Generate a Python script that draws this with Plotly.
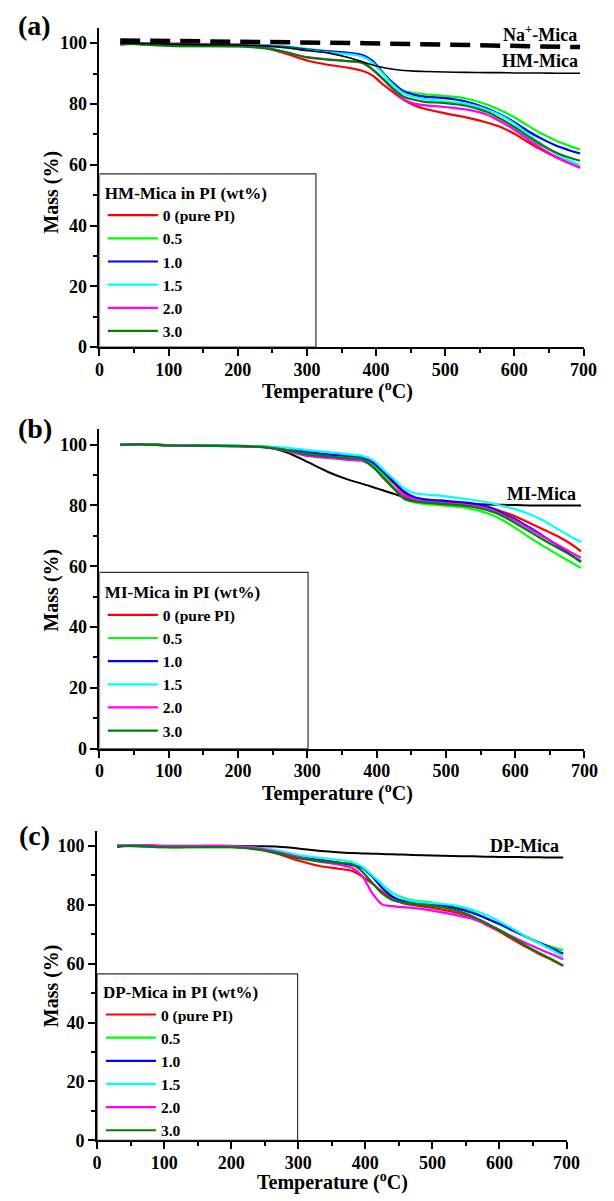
import plotly.graph_objects as go

FONT = "Liberation Serif, Times New Roman, serif"

# ---------------- data ----------------
T = [30, 60, 100, 150, 200, 240, 270, 300, 330, 360, 380, 395, 410, 425, 440,
     455, 470, 500, 530, 560, 580, 600, 620, 640, 660, 680, 695]

LABELS = ["0 (pure PI)", "0.5", "1.0", "1.5", "2.0", "3.0"]
COLORS = ["#ff0000", "#00ff00", "#0000ff", "#00ffff", "#ff00ff", "#008000"]

# panel (a) HM-Mica in PI
a_0 = [100, 99.8, 99.7, 99.6, 99.5, 98.4, 96.5, 94.3, 92.9, 91.9, 90.9, 89.3, 86.4, 83.8, 81.4,
       79.6, 78.4, 76.9, 75.6, 73.9, 72.4, 70.2, 67.4, 64.8, 62.5, 60.5, 59.0]
a_05 = [100, 99.6, 99.1, 99.0, 99.0, 99.0, 98.9, 98.1, 97.4, 96.6, 95.8, 93.5, 90.3, 86.7, 84.3,
        83.6, 83.2, 82.6, 81.8, 79.8, 77.9, 75.6, 72.8, 70.2, 68.0, 66.2, 65.0]
a_10 = [99.5, 99.9, 99.8, 99.7, 99.6, 99.3, 98.7, 97.9, 97.3, 96.8, 96.1, 94.2, 90.2, 86.8, 84.1,
        83.0, 82.4, 81.9, 80.8, 78.6, 76.5, 74.0, 71.0, 68.5, 66.3, 64.7, 63.7]
a_15 = [100, 99.9, 99.8, 99.7, 99.6, 99.2, 98.5, 97.6, 97.0, 96.4, 95.6, 93.6, 89.9, 86.2, 83.5,
        82.3, 81.6, 80.8, 80.1, 78.2, 76.3, 73.5, 70.0, 66.8, 63.8, 61.3, 59.8]
a_20 = [100, 99.9, 99.8, 99.7, 99.5, 98.6, 97.0, 95.4, 94.7, 94.1, 93.5, 91.3, 88.1, 84.7, 81.6,
        80.1, 79.6, 79.0, 78.2, 76.5, 74.2, 71.5, 68.3, 65.3, 62.7, 60.5, 59.0]
a_30 = [100, 99.6, 99.1, 99.0, 98.9, 98.3, 97.0, 95.3, 94.6, 94.1, 93.6, 91.4, 88.3, 85.0, 82.4,
        81.4, 80.7, 80.3, 79.4, 77.4, 75.1, 72.4, 69.3, 66.4, 64.0, 62.3, 61.3]
a_hm = [100, 99.9, 99.7, 99.5, 99.4, 99.1, 98.5, 97.6, 96.8, 95.3, 93.9, 92.8, 92.0, 91.4, 91.0,
        90.8, 90.7, 90.5, 90.4, 90.3, 90.3, 90.2, 90.2, 90.2, 90.1, 90.1, 90.1]
T_na = [30, 384, 695]
a_na = [100.9, 100.0, 98.7]

# panel (b) MI-Mica in PI
b_0 = [100, 100.2, 99.8, 99.6, 99.5, 99.2, 98.3, 97.3, 96.6, 96.0, 95.4, 93.8, 90.6, 87.2, 84.0,
       82.4, 81.7, 81.0, 80.4, 79.4, 78.1, 76.4, 74.3, 72.2, 70.0, 67.4, 64.9]
b_05 = [100, 100.1, 99.7, 99.6, 99.5, 99.1, 98.3, 97.2, 96.3, 95.7, 95.4, 93.1, 89.9, 85.8, 82.2,
        81.0, 80.5, 79.9, 79.2, 77.4, 75.4, 72.6, 69.6, 66.7, 64.0, 61.4, 59.4]
b_10 = [99.8, 100.2, 99.8, 99.7, 99.6, 99.3, 98.6, 97.6, 96.8, 96.3, 95.8, 94.1, 91.0, 87.7, 84.5,
        82.7, 82.0, 81.5, 80.9, 79.6, 77.6, 75.5, 72.8, 70.0, 67.0, 63.8, 61.6]
b_15 = [100, 100.2, 99.8, 99.7, 99.7, 99.4, 98.9, 98.2, 97.5, 96.8, 96.2, 94.8, 91.7, 88.6, 85.5,
        84.0, 83.6, 83.0, 82.1, 81.0, 79.9, 78.8, 77.2, 75.1, 72.4, 69.8, 67.9]
b_20 = [100, 100.1, 99.8, 99.6, 99.5, 99.1, 97.9, 96.3, 95.6, 95.0, 94.6, 92.6, 88.9, 85.8, 83.2,
        82.0, 81.3, 80.7, 80.1, 79.0, 77.1, 75.0, 72.4, 69.8, 67.2, 64.6, 62.8]
b_30 = [100, 100.1, 99.7, 99.6, 99.5, 99.1, 98.2, 96.8, 96.1, 95.5, 95.1, 92.6, 89.1, 85.4, 82.2,
        81.3, 80.9, 80.4, 79.8, 78.4, 76.7, 74.2, 71.5, 68.8, 66.2, 63.6, 61.4]
b_mi = [100, 100.2, 99.8, 99.6, 99.5, 99.1, 97.5, 94.3, 91.0, 88.4, 87.1, 86.0, 84.9, 83.8, 82.6,
        81.7, 81.3, 80.8, 80.5, 80.3, 80.2, 80.1, 80.0, 80.0, 80.0, 80.0, 80.0]

# panel (c) DP-Mica in PI
c_0 = [100, 100.2, 99.9, 99.8, 99.7, 98.9, 97.2, 95.0, 93.2, 92.2, 91.5, 89.6, 87.2, 84.4, 81.9,
       80.6, 79.9, 78.9, 77.6, 75.6, 73.2, 70.9, 68.2, 65.6, 63.2, 61.0, 59.3]
c_05 = [100, 99.8, 99.5, 99.5, 99.5, 99.0, 97.8, 96.2, 95.0, 94.2, 93.5, 92.6, 89.9, 86.8, 84.0,
        82.5, 81.5, 80.7, 79.6, 77.6, 75.4, 73.3, 71.1, 69.0, 67.1, 65.5, 64.5]
c_10 = [99.6, 100.1, 99.8, 99.7, 99.6, 99.2, 97.9, 96.2, 95.3, 94.3, 93.5, 92.5, 89.6, 85.7, 82.8,
        81.3, 80.9, 80.2, 79.1, 77.2, 75.4, 73.5, 71.3, 69.1, 67.0, 65.0, 63.4]
c_15 = [100, 100.1, 99.8, 99.7, 99.6, 99.3, 98.4, 96.8, 96.0, 95.2, 94.5, 92.9, 90.0, 86.9, 84.0,
        82.3, 81.2, 80.5, 79.9, 78.3, 76.5, 74.3, 71.8, 69.2, 66.8, 64.4, 62.3]
c_20 = [100, 100.1, 100.0, 100.0, 100.0, 99.1, 97.8, 96.2, 94.7, 93.6, 92.5, 89.8, 84.0, 80.1, 79.5,
        79.2, 78.9, 78.0, 76.7, 75.2, 73.4, 71.3, 69.1, 66.9, 64.9, 63.0, 61.5]
c_30 = [100, 99.9, 99.5, 99.5, 99.5, 98.7, 97.4, 95.8, 94.8, 94.2, 93.7, 91.3, 87.5, 83.8, 81.6,
        80.8, 80.3, 79.6, 78.4, 76.0, 73.8, 71.4, 68.7, 66.0, 63.5, 61.2, 59.3]
c_dp = [100, 100.1, 99.9, 99.8, 99.8, 99.8, 99.7, 99.1, 98.3, 97.8, 97.5, 97.4, 97.3, 97.2, 97.1,
        97.0, 96.9, 96.7, 96.5, 96.4, 96.3, 96.2, 96.2, 96.1, 96.1, 96.0, 96.0]

X_TICKS = [0, 100, 200, 300, 400, 500, 600, 700]
Y_TICKS = [0, 20, 40, 60, 80, 100]

# ---------------- figure ----------------
W, H = 614, 1201
fig = go.Figure()


def py(p):
    return 1 - p / H


def px(p):
    return p / W


panels = [
    dict(series=[a_0, a_05, a_10, a_15, a_20, a_30], ref=a_hm, ref_w=1.6, ref_top=True,
         title="HM-Mica in PI (wt%)",
         xdom=[px(97.5), px(597)], ydom=[py(350), py(28.2)],
         box=(313, 57), leg=(101, 178)),
    dict(series=[b_0, b_05, b_10, b_15, b_20, b_30], ref=b_mi, ref_w=2.0, ref_top=False,
         title="MI-Mica in PI (wt%)",
         xdom=[px(97.5), px(598)], ydom=[py(755), py(433)],
         box=(301, 58), leg=(101, 581)),
    dict(series=[c_0, c_05, c_10, c_15, c_20, c_30], ref=c_dp, ref_w=2.0, ref_top=False,
         title="DP-Mica in PI (wt%)",
         xdom=[px(95), px(579.5)], ydom=[py(1150), py(838)],
         box=(299, 56.5), leg=(99, 984)),
]

tickfont = dict(family=FONT, size=18, color="black", weight="bold")
layout = {}
shapes = []
for i, p in enumerate(panels, start=1):
    sfx = "" if i == 1 else str(i)
    xa, ya = "x" + sfx, "y" + sfx
    legname = "legend" + sfx

    def add_ref():
        fig.add_trace(go.Scatter(x=T, y=p["ref"], mode="lines",
                                 line=dict(color="black", width=p["ref_w"], shape="spline", smoothing=0.8),
                                 showlegend=False, xaxis=xa, yaxis=ya, hoverinfo="skip"))

    if not p["ref_top"]:
        add_ref()
    for lab, col, vals in zip(LABELS, COLORS, p["series"]):
        fig.add_trace(go.Scatter(x=T, y=vals, mode="lines", name=lab,
                                 line=dict(color=col, width=2.2, shape="spline", smoothing=0.8),
                                 xaxis=xa, yaxis=ya, legend=legname))
    if p["ref_top"]:
        add_ref()
    if i == 1:
        fig.add_trace(go.Scatter(x=T_na, y=a_na, mode="lines",
                                 line=dict(color="black", width=4.5, dash="20px,10px"),
                                 showlegend=False, xaxis=xa, yaxis=ya, hoverinfo="skip"))

    layout["xaxis" + sfx] = dict(
        domain=p["xdom"], anchor=ya, range=[0, 700], showline=True, linecolor="black",
        linewidth=2, ticks="outside", ticklen=7, tickwidth=2, tickcolor="black",
        tickvals=X_TICKS, ticktext=[str(v) for v in X_TICKS], ticklabelstandoff=-2,
        minor=dict(dtick=50, tick0=0, ticks="outside", ticklen=4, tickwidth=1.5, tickcolor="black"),
        showgrid=False, zeroline=False, tickfont=tickfont, fixedrange=True)
    layout["yaxis" + sfx] = dict(
        domain=p["ydom"], anchor=xa, range=[0, 105], showline=True, linecolor="black",
        linewidth=2, ticks="outside", ticklen=7, tickwidth=2, tickcolor="black",
        tickvals=Y_TICKS, ticktext=[str(v) for v in Y_TICKS],
        minor=dict(dtick=10, tick0=0, ticks="outside", ticklen=4, tickwidth=1.5, tickcolor="black"),
        showgrid=False, zeroline=False, tickfont=tickfont, fixedrange=True)
    layout[legname] = dict(
        x=px(p["leg"][0]), y=py(p["leg"][1]), xanchor="left", yanchor="top",
        bgcolor="rgba(0,0,0,0)", borderwidth=0, tracegroupgap=0, itemwidth=50,
        font=dict(family=FONT, size=15.5, color="black", weight="bold"),
        title=dict(text=p["title"], font=dict(family=FONT, size=17, color="black", weight="bold")))
    shapes.append(dict(type="rect", xref=xa, yref=ya, x0=0, x1=p["box"][0], y0=0, y1=p["box"][1],
                       line=dict(color="#333333", width=1.2), fillcolor="rgba(0,0,0,0)", layer="above"))

annfont = dict(family=FONT, size=18, color="black", weight="bold")
titlefont = dict(family=FONT, size=20, color="black", weight="bold")
letterfont = dict(family=FONT, size=28, color="black", weight="bold")
annotations = [
    dict(text="Na<sup>+</sup>-Mica", x=693, y=103.3, xref="x", yref="y", xanchor="right", yanchor="middle",
         showarrow=False, font=annfont),
    dict(text="HM-Mica", x=695, y=94.1, xref="x", yref="y", xanchor="right", yanchor="middle",
         showarrow=False, font=annfont),
    dict(text="MI-Mica", x=690, y=83.7, xref="x2", yref="y2", xanchor="right", yanchor="middle",
         showarrow=False, font=annfont),
    dict(text="DP-Mica", x=691, y=99.9, xref="x3", yref="y3", xanchor="right", yanchor="middle",
         showarrow=False, font=annfont),
]
for letter, (lx, ly) in zip(["(a)", "(b)", "(c)"], [(30, 26), (31, 431.7), (30, 842.7)]):
    annotations.append(dict(text=letter, x=px(lx), y=py(ly), xref="paper", yref="paper",
                            xanchor="center", yanchor="middle", showarrow=False, font=letterfont))
for (tx, ty), (mx, my) in zip([(343, 394), (343, 799), (338, 1191)],
                              [(48, 193.7), (48, 595), (48, 994)]):
    annotations.append(dict(text="Temperature (<sup>o</sup>C)", x=px(tx), y=py(ty), xref="paper", yref="paper",
                            xanchor="center", yanchor="middle", showarrow=False, font=titlefont))
    annotations.append(dict(text="Mass (%)", x=px(mx), y=py(my), xref="paper", yref="paper",
                            xanchor="center", yanchor="middle", textangle=-90, showarrow=False, font=titlefont))

fig.update_layout(
    width=W, height=H, margin=dict(l=0, r=0, t=0, b=0),
    font=dict(family=FONT, color="black", weight="bold"),
    paper_bgcolor="white", plot_bgcolor="white", showlegend=True,
    shapes=shapes, annotations=annotations, **layout)

fig.write_html("out.html")
